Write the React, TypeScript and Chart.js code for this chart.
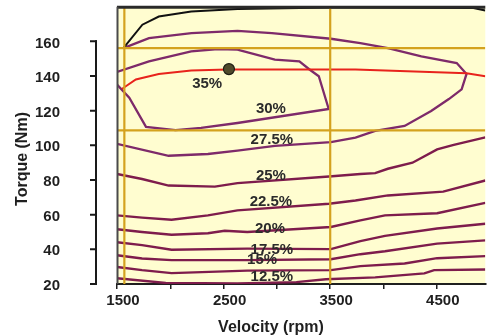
import React, { useEffect, useRef } from "react";
import { Chart, registerables } from "chart.js";

Chart.register(...registerables);

type Pt = [number, number];

// ---- axis ranges & ticks ----
const X_MIN = 1500;
const X_MAX = 4955;
const Y_MIN = 20;
const Y_MAX = 180;
const xTickValues = [1500, 2000, 2500, 3000, 3500, 4000, 4500];
const xTickLabels = [1500, 2500, 3500, 4500];
const yTickLabels = [20, 40, 60, 80, 100, 120, 140, 160];

// ---- curves (rpm, Nm) ----
const maxTorqueCurve: Pt[] = [
  [1560, 156.1], [1738, 169.6], [1892, 174.3], [2196, 177.2], [2630, 178.7],
  [3506, 179.6], [4844, 179.2], [4955, 177.8],
];
const contour275: Pt[] = [
  [1560, 156.1], [1800, 161.9], [2199, 164.7], [2630, 166.1], [2953, 164.7],
  [3506, 161.5], [3783, 159.0], [4041, 156.1], [4355, 151.4], [4687, 147.5],
  [4779, 141.2], [4733, 132.3], [4613, 126.7], [4447, 119.8], [4198, 111.2],
  [3922, 108.4], [3737, 104.5], [3506, 101.8], [2981, 99.7], [2630, 96.9],
  [2353, 95.0], [1984, 94.0], [1500, 100.9],
];
const contour30: Pt[] = [
  [1500, 142.4], [1800, 148.5], [2196, 154.2], [2446, 155.6], [2630, 155.2],
  [2981, 149.5], [3211, 148.5], [3303, 143.9], [3393, 139.9], [3486, 121.0],
  [2630, 112.9], [2289, 110.1], [2049, 108.8], [1772, 110.7], [1615, 127.5],
  [1500, 135.1],
];
const bestEfficiencyLine: Pt[] = [
  [1545, 132.5], [1677, 138.0], [1892, 141.2], [2196, 143.2], [2538, 143.7],
  [3737, 143.7], [4779, 141.6], [4955, 139.9],
];
const contour25: Pt[] = [
  [1500, 83.5], [1735, 80.6], [1984, 76.8], [2418, 76.2], [2630, 78.2],
  [3488, 82.0], [3783, 83.5], [3922, 84.0], [4041, 86.5], [4272, 90.0],
  [4503, 97.7], [4659, 100.3], [4955, 104.6],
];
const contour225: Pt[] = [
  [1500, 59.6], [1735, 58.3], [2012, 57.1], [2353, 59.6], [2630, 62.5],
  [3488, 66.3], [3737, 68.2], [4041, 71.1], [4560, 73.3], [4955, 79.7],
];
const contour20: Pt[] = [
  [1500, 51.6], [1735, 50.0], [2012, 48.4], [2353, 49.3], [2510, 50.7],
  [2722, 50.0], [3506, 52.9], [3783, 56.7], [4014, 59.6], [4503, 60.8],
  [4955, 66.8],
];
const contour175: Pt[] = [
  [1500, 44.1], [1735, 42.4], [2012, 39.8], [2722, 40.4], [3506, 40.1],
  [3783, 44.7], [4014, 47.8], [4503, 52.0], [4955, 54.8],
];
const contour15: Pt[] = [
  [1500, 36.6], [1735, 34.7], [2012, 33.8], [2722, 33.8], [3506, 34.3],
  [3783, 37.2], [4014, 38.9], [4503, 43.3], [4955, 45.2],
];
const contour125: Pt[] = [
  [1500, 29.8], [1735, 28.0], [2012, 26.3], [2722, 27.7], [3506, 28.0],
  [3783, 30.3], [4198, 31.8], [4503, 34.9], [4955, 36.1],
];
const contour10: Pt[] = [
  [1500, 23.3], [1957, 20.6], [2630, 20.3], [3183, 21.1], [3460, 22.7],
  [3922, 23.8], [4383, 26.1], [4475, 28.0], [4955, 28.4],
];
const peakPoint: Pt[] = [[2550, 144]];

// ---- reference (gold) lines ----
const goldSpeeds = [1569, 3500];
const goldTorques = [156.1, 108.6];

// ---- contour labels ----
const labelTexts = ["35%", "30%", "27.5%", "25%", "22.5%", "20%", "17.5%", "15%", "12.5%"];
const labelRpm = [2346, 2944, 2953, 2944, 2944, 2935, 2953, 2861, 2953];
const labelNm = [135.3, 120.9, 103.4, 82.2, 67.2, 52.1, 39.5, 33.8, 24.0];

const FONT = "'Liberation Sans', Arial, Helvetica, sans-serif";
const PLOT_BG = "#FFFDD0";
const GOLD = "#D4A21E";
const PURPLE_UP = "#7E2A6A";
const PURPLE = "#7E1C4C";

const toXY = (pts: Pt[]) => pts.map(([x, y]) => ({ x, y }));

const lineDs = (data: Pt[], color: string, width = 2) => ({
  data: toXY(data),
  showLine: true,
  borderColor: color,
  backgroundColor: color,
  borderWidth: width,
  pointRadius: 0,
  pointHoverRadius: 0,
  tension: 0,
  fill: false,
});

const bgPlugin = {
  id: "bgPlugin",
  beforeDraw(chart: any) {
    const { ctx, chartArea: a, width, height } = chart;
    ctx.save();
    ctx.fillStyle = "#ffffff";
    ctx.fillRect(0, 0, width, height);
    ctx.fillStyle = PLOT_BG;
    ctx.fillRect(a.left, a.top, a.right - a.left, a.bottom - a.top);
    ctx.restore();
  },
};

const framePlugin = {
  id: "framePlugin",
  afterDatasetsDraw(chart: any) {
    const { ctx, chartArea: a } = chart;
    const ys = chart.scales.y;
    ctx.save();
    // top border
    ctx.strokeStyle = "#2a2a2a";
    ctx.lineWidth = 3;
    ctx.beginPath();
    ctx.moveTo(a.left, a.top + 0.5);
    ctx.lineTo(a.right, a.top + 0.5);
    ctx.stroke();
    // left border
    ctx.strokeStyle = "#4a4a4a";
    ctx.lineWidth = 2;
    ctx.beginPath();
    ctx.moveTo(a.left + 0.5, a.top);
    ctx.lineTo(a.left + 0.5, a.bottom);
    ctx.stroke();
    // offset y axis line + ticks
    const axX = a.left - 21;
    ctx.strokeStyle = "#1a1a1a";
    ctx.lineWidth = 2;
    ctx.beginPath();
    ctx.moveTo(axX, ys.getPixelForValue(yTickLabels[0]) + 1);
    ctx.lineTo(axX, ys.getPixelForValue(yTickLabels[yTickLabels.length - 1]) - 1);
    ctx.stroke();
    ctx.beginPath();
    for (const v of yTickLabels) {
      const y = ys.getPixelForValue(v);
      ctx.moveTo(axX - 6, y);
      ctx.lineTo(axX + 1, y);
    }
    ctx.stroke();
    // contour labels
    const xs = chart.scales.x;
    ctx.fillStyle = "#2b2b2b";
    ctx.font = `bold 15px ${FONT}`;
    ctx.textAlign = "center";
    ctx.textBaseline = "middle";
    labelTexts.forEach((t, i) => {
      ctx.fillText(t, xs.getPixelForValue(labelRpm[i]), ys.getPixelForValue(labelNm[i]));
    });
    ctx.restore();
  },
};

const titlePlugin = {
  id: "titlePlugin",
  afterDraw(chart: any) {
    const { ctx, chartArea: a } = chart;
    ctx.save();
    ctx.fillStyle = "#1f1f1f";
    ctx.font = `bold 16px ${FONT}`;
    ctx.textAlign = "center";
    ctx.textBaseline = "alphabetic";
    ctx.fillText("Velocity (rpm)", a.left + 154, chart.height - 3.5);
    ctx.translate(26.5, 159);
    ctx.rotate(-Math.PI / 2);
    ctx.fillText("Torque (Nm)", 0, 0);
    ctx.restore();
  },
};

export default function App() {
  const ref = useRef<HTMLCanvasElement | null>(null);

  useEffect(() => {
    if (!ref.current) return;
    const datasets: any[] = [
      ...goldSpeeds.map((v) => lineDs([[v, Y_MIN], [v, Y_MAX]], GOLD, 2.2)),
      ...goldTorques.map((v) => lineDs([[X_MIN, v], [X_MAX, v]], GOLD, 2.2)),
      {
        data: toXY(peakPoint),
        showLine: false,
        pointRadius: 5.5,
        pointStyle: "circle",
        pointBackgroundColor: "#4f4a2a",
        pointBorderColor: "#1e1e14",
        pointBorderWidth: 1.2,
      },
      lineDs(bestEfficiencyLine, "#E8231C", 2),
      lineDs(maxTorqueCurve, "#111111", 2),
      lineDs(contour30, PURPLE_UP, 2.3),
      lineDs(contour275, PURPLE_UP, 2.3),
      lineDs(contour25, PURPLE, 2.4),
      lineDs(contour225, PURPLE, 2.4),
      lineDs(contour20, PURPLE, 2.4),
      lineDs(contour175, PURPLE, 2.4),
      lineDs(contour15, PURPLE, 2.4),
      lineDs(contour125, PURPLE, 2.4),
      lineDs(contour10, PURPLE, 2.4),
    ];

    const chart = new Chart(ref.current, {
      type: "scatter",
      data: { datasets },
      options: {
        animation: false,
        responsive: false,
        devicePixelRatio: 1,
        layout: { padding: { top: 5, left: 0, right: 0, bottom: 0 } },
        plugins: { legend: { display: false }, tooltip: { enabled: false }, title: { display: false } },
        events: [],
        scales: {
          x: {
            type: "linear",
            min: X_MIN,
            max: X_MAX,
            afterBuildTicks: (s: any) => {
              s.ticks = xTickValues.map((v) => ({ value: v }));
            },
            afterFit: (s: any) => {
              s.height = 51;
              s.paddingLeft = 0;
              s.paddingRight = 0;
            },
            ticks: {
              autoSkip: false,
              maxRotation: 0,
              labelOffset: 6,
              padding: 3,
              color: "#1f1f1f",
              font: { family: FONT, size: 15, weight: "bold" },
              callback: (v: any) => (xTickLabels.includes(Number(v)) ? String(v) : ""),
            },
            grid: {
              display: true,
              drawOnChartArea: false,
              drawTicks: true,
              tickLength: 5,
              color: "#1f1f1f",
              lineWidth: 1.5,
            },
            border: { display: true, color: "#1f1f1f", width: 2 },
          },
          y: {
            type: "linear",
            min: Y_MIN,
            max: Y_MAX,
            afterFit: (s: any) => {
              s.width = 117;
              s.paddingTop = 0;
              s.paddingBottom = 0;
            },
            ticks: {
              stepSize: 20,
              autoSkip: false,
              padding: 57,
              labelOffset: 2,
              color: "#1f1f1f",
              font: { family: FONT, size: 15, weight: "bold" },
              callback: (v: any) => (yTickLabels.includes(Number(v)) ? String(v) : ""),
            },
            grid: { display: false, drawTicks: false },
            border: { display: false },
          },
        },
      } as any,
      plugins: [bgPlugin, framePlugin, titlePlugin],
    });
    return () => chart.destroy();
  }, []);

  return (
    <div style={{ position: "fixed", left: 0, top: 0, width: 492, height: 335, background: "#fff" }}>
      <canvas ref={ref} width={492} height={335} style={{ display: "block" }} />
    </div>
  );
}
